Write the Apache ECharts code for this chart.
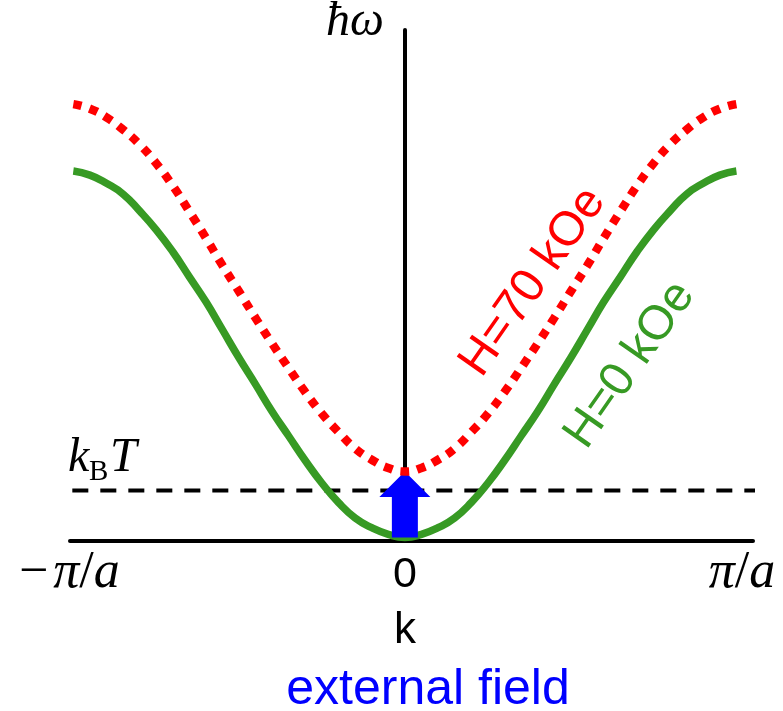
<!DOCTYPE html>
<html>
<head>
<meta charset="utf-8">
<script src="https://cdn.jsdelivr.net/npm/echarts@6/dist/echarts.min.js"></script>
<style>
  html, body { margin: 0; padding: 0; background: #ffffff; }
  #chart { width: 783px; height: 711px; }
</style>
</head>
<body>
<div id="chart"></div>
<script>
// Wave vector across the Brillouin zone, in units of pi/a
const kValues = [-1, -0.95, -0.9, -0.85, -0.8, -0.75, -0.7, -0.65, -0.6, -0.55, -0.5,
                 -0.45, -0.4, -0.35, -0.3, -0.25, -0.2, -0.15, -0.1, -0.05, 0,
                 0.05, 0.1, 0.15, 0.2, 0.25, 0.3, 0.35, 0.4, 0.45, 0.5,
                 0.55, 0.6, 0.65, 0.7, 0.75, 0.8, 0.85, 0.9, 0.95, 1];
// Magnon energy without field (H = 0 kOe), arbitrary units
const energyH0 = [7.24, 7.16, 7.00, 6.79, 6.46, 6.09, 5.66, 5.17, 4.68, 4.13, 3.58,
                  3.06, 2.53, 2.05, 1.57, 1.13, 0.75, 0.45, 0.26, 0.13, 0.07,
                  0.13, 0.26, 0.45, 0.75, 1.13, 1.57, 2.05, 2.53, 3.06, 3.58,
                  4.13, 4.68, 5.17, 5.66, 6.09, 6.46, 6.79, 7.00, 7.16, 7.24];
// Magnon energy with field applied (H = 70 kOe)
const energyH70 = [8.55, 8.46, 8.29, 8.05, 7.76, 7.39, 6.95, 6.45, 5.93, 5.39, 4.88,
                   4.36, 3.86, 3.38, 2.91, 2.49, 2.13, 1.81, 1.59, 1.43, 1.36,
                   1.43, 1.59, 1.81, 2.13, 2.49, 2.91, 3.38, 3.86, 4.36, 4.88,
                   5.39, 5.93, 6.45, 6.95, 7.39, 7.76, 8.05, 8.29, 8.46, 8.55];
// Thermal energy level k_B T and the k range of its guide line
const thermalEnergy = 0.99;
const thermalSpan = [-1.003, 1.094];
// Tick positions and labels on the k axis
const tickValues = [-1, 0, 1];
const tickLabels = ['−π/a', '0', 'π/a'];
// Series labels
const curveNames = ['H=0 kOe', 'H=70 kOe'];

const chart = echarts.init(document.getElementById('chart'), null, { renderer: 'canvas' });

const serif = '"Liberation Serif", "Times New Roman", serif';
const sans = '"Liberation Sans", Arial, sans-serif';
const greenColor = '#379a24';

// Math-style tick labels: upright minus and slash, italic symbols
function tickFormatter(value) {
  const i = tickValues.indexOf(value);
  if (i < 0) return '';
  const t = tickLabels[i];
  if (t === '0') return '{z|0}';
  if (t.charAt(0) === '−') return '{m|−}{i|π}{u|/}{iL|a}';
  return '{iR|π}{u|/}{i|a}';
}

const pairs = (ys) => kValues.map((k, i) => [k, ys[i]]);
const center = kValues.indexOf(0);

const mathSize = 52;
const mathBase = { fontFamily: serif, fontSize: mathSize, lineHeight: mathSize, color: '#000' };

const option = {
  animation: false,
  backgroundColor: '#ffffff',
  grid: { left: 70, right: 30, top: 30, bottom: 170, containLabel: false, outerBoundsMode: 'none' },
  xAxis: {
    type: 'value',
    min: -1.01,
    max: 1.05,
    name: 'k',
    nameLocation: 'middle',
    nameGap: 68,
    nameTextStyle: { fontFamily: sans, fontSize: 44, color: '#000', padding: [0, 13, 0, 0] },
    axisLine: { show: true, onZero: true, lineStyle: { color: '#000', width: 4 } },
    axisTick: { show: false },
    splitLine: { show: false },
    axisLabel: {
      show: true,
      customValues: tickValues,
      margin: 6,
      formatter: tickFormatter,
      rich: {
        m: Object.assign({}, mathBase, { padding: [0, 5, 0, 0] }),
        u: Object.assign({}, mathBase),
        i: Object.assign({}, mathBase, { fontStyle: 'italic' }),
        iL: Object.assign({}, mathBase, { fontStyle: 'italic', padding: [0, 8, 0, 0] }),
        iR: Object.assign({}, mathBase, { fontStyle: 'italic', padding: [0, 0, 0, 11] }),
        z: { fontFamily: sans, fontSize: 43, lineHeight: 52, color: '#000', padding: [4, 0, 0, 0] }
      }
    }
  },
  yAxis: {
    type: 'value',
    min: 0,
    max: 10,
    axisLine: { show: true, onZero: true, lineStyle: { color: '#000', width: 4 } },
    axisTick: { show: false },
    axisLabel: { show: false },
    splitLine: { show: false }
  },
  series: [
    {
      name: 'kBT',
      type: 'line',
      clip: false,
      symbol: 'none',
      silent: true,
      data: [[thermalSpan[0], thermalEnergy], [thermalSpan[1], thermalEnergy]],
      lineStyle: { color: '#000', width: 4, type: [16, 12], cap: 'butt' },
      z: 2
    },
    {
      name: curveNames[0],
      type: 'line',
      smooth: true,
      symbol: 'none',
      data: pairs(energyH0),
      lineStyle: { color: greenColor, width: 7.5 },
      z: 3
    },
    {
      // Arrow lifting the band bottom from the zero-field to the 70 kOe minimum
      name: 'field shift',
      type: 'custom',
      data: [[kValues[center], energyH0[center], energyH70[center]]],
      renderItem: function (params, api) {
        const base = api.coord([api.value(0), api.value(1)]);
        const tip = api.coord([api.value(0), api.value(2)]);
        const x = base[0];
        const shaftHalf = 13, headHalf = 25.5, headLen = 25.6;
        const neck = tip[1] + headLen;
        return {
          type: 'polygon',
          shape: {
            points: [
              [x - shaftHalf, base[1]], [x - shaftHalf, neck], [x - headHalf, neck],
              [x, tip[1]],
              [x + headHalf, neck], [x + shaftHalf, neck], [x + shaftHalf, base[1]]
            ]
          },
          style: { fill: '#0000ff' }
        };
      },
      z: 4
    },
    {
      name: curveNames[1],
      type: 'line',
      smooth: true,
      symbol: 'none',
      data: pairs(energyH70),
      lineStyle: { color: '#ff0000', width: 8.5, type: [8.5, 8.3], cap: 'butt' },
      z: 5
    }
  ],
  graphic: [
    { type: 'text', x: 326, y: 22, style: { text: 'ħω', fontFamily: serif, fontStyle: 'italic', fontSize: 48, fill: '#000', align: 'left', verticalAlign: 'middle' } },
    { type: 'text', x: 68, y: 458, style: { text: 'k', fontFamily: serif, fontStyle: 'italic', fontSize: 48, fill: '#000', align: 'left', verticalAlign: 'middle' } },
    { type: 'text', x: 89, y: 472, style: { text: 'B', fontFamily: serif, fontSize: 29, fill: '#000', align: 'left', verticalAlign: 'middle' } },
    { type: 'text', x: 110, y: 458, style: { text: 'T', fontFamily: serif, fontStyle: 'italic', fontSize: 48, fill: '#000', align: 'left', verticalAlign: 'middle' } },
    { type: 'text', x: 428, y: 690, style: { text: 'external field', fontFamily: sans, fontSize: 50, fill: '#0000ff', align: 'center', verticalAlign: 'middle' } },
    { type: 'text', x: 533, y: 282, rotation: 55 * Math.PI / 180, style: { text: curveNames[1], fontFamily: sans, fontSize: 48, fill: '#ff0000', align: 'center', verticalAlign: 'middle' } },
    { type: 'text', x: 630, y: 365, rotation: 55 * Math.PI / 180, style: { text: curveNames[0], fontFamily: sans, fontSize: 48, fill: greenColor, align: 'center', verticalAlign: 'middle' } }
  ]
};

chart.setOption(option);
</script>
</body>
</html>
